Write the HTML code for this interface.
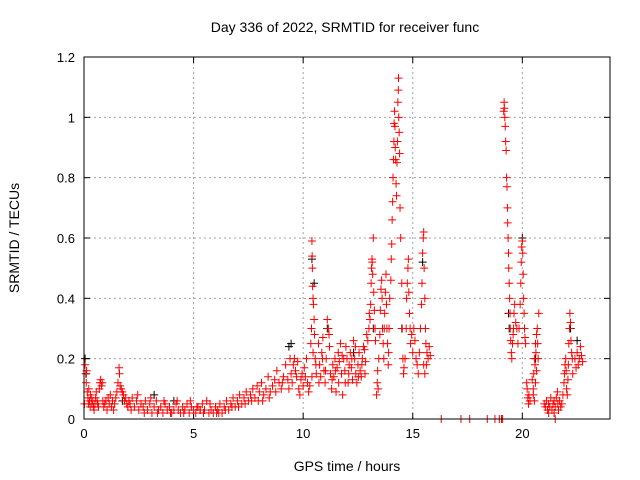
<!DOCTYPE html>
<html><head><meta charset="utf-8"><style>
body{margin:0;background:#fff;}
svg{display:block;font-family:"Liberation Sans",sans-serif;}
</style></head><body>
<svg id="chart" width="640" height="480" viewBox="0 0 640 480">
<rect width="640" height="480" fill="#fff"/>
<text x="345" y="32" text-anchor="middle" font-size="14">Day 336 of 2022, SRMTID for receiver func</text>
<text x="347" y="471" text-anchor="middle" font-size="14">GPS time / hours</text>
<text transform="translate(19,238) rotate(-90)" text-anchor="middle" font-size="14">SRMTID / TECUs</text>
<g id="grid"></g>
<g id="ticks"></g>
<g id="black"></g>
<g id="red"></g>
<rect x="84" y="57" width="526" height="362" fill="none" stroke="#000" stroke-width="1"/>
</svg>
<script>
const xTicks = [0,5,10,15,20];
const yTicks = [0,0.2,0.4,0.6,0.8,1,1.2];
const yTickLabels = ["0","0.2","0.4","0.6","0.8","1","1.2"];
const blackPoints = [[0.05,0.2],[0.1,0.15],[1.75,0.06],[3.2,0.08],[4.1,0.06],[9.35,0.24],[9.45,0.25],[10.4,0.53],[10.5,0.45],[13.2,0.3],[14.5,0.3],[15.45,0.52],[19.37,0.35],[19.4,0.3],[20.0,0.6],[20.6,0.2],[22.2,0.3],[22.5,0.26],[11.1,0.3],[12.3,0.22],[5.3,0.03]];
const redPoints = [
[0.02,0.05],[0.05,0.18],[0.08,0.15],[0.1,0.12],[0.12,0.16],[0.15,0.09],[0.18,0.07],[0.2,0.05],[0.22,0.1],[0.25,0.06],[0.28,0.04],[0.3,0.08],[0.33,0.07],[0.36,0.05],[0.4,0.06],[0.43,0.04],[0.46,0.03],[0.5,0.05],[0.53,0.07],[0.56,0.09],[0.6,0.06],[0.63,0.05],[0.66,0.04],[0.7,0.1],[0.73,0.12],[0.76,0.13],[0.8,0.11],[0.83,0.12],[0.86,0.06],[0.9,0.04],[0.95,0.05],[1.0,0.06],[1.05,0.03],[1.1,0.07],[1.15,0.05],[1.2,0.08],[1.25,0.04],[1.3,0.06],[1.35,0.03],[1.4,0.05],[1.45,0.07],
[1.5,0.09],[1.55,0.12],[1.6,0.17],[1.62,0.15],[1.65,0.11],[1.7,0.1],[1.75,0.09],[1.8,0.08],[1.85,0.06],[1.9,0.07],[1.95,0.05],[2.0,0.04],[2.05,0.06],
[2.1,0.05],[2.2,0.07],[2.3,0.04],[2.4,0.06],[2.5,0.03],[2.6,0.05],[2.7,0.04],[2.8,0.06],[2.9,0.03],[3.0,0.05],[3.1,0.02],[3.2,0.04],[3.3,0.06],[3.4,0.03],[3.5,0.04],[3.6,0.02],[3.7,0.05],[3.8,0.03],[3.9,0.04],[4.0,0.02],[4.1,0.03],[4.2,0.05],[4.3,0.03],[4.4,0.02],[4.5,0.04],[4.6,0.03],[4.7,0.05],[4.8,0.02],[4.9,0.04],[5.0,0.03],[5.1,0.02],[5.2,0.04],[5.3,0.03],[5.4,0.05],[5.5,0.03],[5.6,0.06],[5.7,0.02],[5.8,0.03],[5.9,0.02],[6.0,0.04],
[2.15,0.03],[2.45,0.08],[2.75,0.02],[3.05,0.07],[3.35,0.02],[3.65,0.06],[3.95,0.02],[4.25,0.06],[4.55,0.02],[4.85,0.06],[5.15,0.04],[5.45,0.02],[5.75,0.05],[6.05,0.02],
[6.1,0.03],[6.2,0.05],[6.3,0.02],[6.4,0.04],[6.5,0.06],[6.6,0.03],[6.7,0.05],[6.8,0.07],[6.9,0.04],[7.0,0.06],[7.1,0.08],[7.2,0.05],[7.3,0.07],[7.4,0.09],[7.5,0.06],[7.6,0.08],[7.7,0.1],[7.8,0.07],[7.9,0.11],[8.0,0.09],[6.15,0.02],[6.45,0.03],[6.75,0.04],[7.05,0.04],[7.35,0.05],[7.65,0.06],[7.95,0.06],
[8.1,0.12],[8.2,0.08],[8.3,0.1],[8.4,0.14],[8.5,0.09],[8.6,0.11],[8.7,0.13],[8.8,0.16],[8.9,0.12],[9.0,0.1],[9.1,0.14],[9.2,0.18],[9.3,0.13],[9.4,0.2],[9.45,0.15],[8.15,0.06],[8.45,0.07],[8.75,0.09],[9.05,0.12],[9.35,0.1],
[9.5,0.12],[9.55,0.18],[9.6,0.2],[9.65,0.16],[9.7,0.14],[9.75,0.19],[9.8,0.1],[9.85,0.08],[9.9,0.13],[9.95,0.15],[10.0,0.11],[10.05,0.17],[10.1,0.14],[10.15,0.2],[10.2,0.12],[10.25,0.09],[10.3,0.11],
[10.35,0.25],[10.38,0.3],[10.4,0.59],[10.41,0.54],[10.42,0.5],[10.43,0.44],[10.45,0.4],[10.47,0.38],[10.5,0.33],[10.52,0.28],[10.55,0.2],[10.4,0.14],[10.45,0.22],[10.58,0.18],[10.6,0.15],
[10.7,0.25],[10.75,0.18],[10.8,0.14],[10.85,0.22],[10.9,0.27],[10.95,0.16],[11.0,0.12],[11.05,0.2],[11.1,0.33],[11.15,0.3],[11.2,0.24],[11.25,0.15],[11.3,0.1],[11.35,0.18],[11.4,0.14],[11.45,0.2],[11.5,0.09],[11.55,0.17],[11.6,0.22],[11.65,0.19],[11.7,0.25],[11.75,0.15],[11.8,0.08],[11.85,0.2],[11.9,0.16],[11.95,0.24],[12.0,0.2],[12.05,0.12],[12.1,0.18],[12.15,0.22],[12.2,0.17],[12.25,0.13],[12.3,0.26],[12.35,0.2],[12.4,0.15],[12.45,0.12],[12.5,0.18],[12.55,0.22],[12.6,0.16],[12.65,0.14],[12.7,0.2],[12.75,0.24],[12.8,0.23],[12.85,0.19],[12.9,0.28],
[10.72,0.12],[10.88,0.2],[11.02,0.16],[11.18,0.28],[11.32,0.13],[11.48,0.16],[11.62,0.12],[11.78,0.21],[11.92,0.12],[12.08,0.15],[12.22,0.2],[12.38,0.24],[12.52,0.14],[12.68,0.18],[12.82,0.15],
[12.95,0.26],[13.0,0.3],[13.02,0.35],[13.05,0.33],[13.08,0.38],[13.1,0.45],[13.12,0.5],[13.14,0.53],[13.15,0.52],[13.17,0.48],[13.2,0.6],[13.22,0.42],[13.25,0.36],[13.28,0.3],[13.3,0.26],
[13.35,0.08],[13.38,0.12],[13.4,0.16],[13.42,0.1],[13.45,0.2],[13.5,0.28],[13.52,0.36],[13.55,0.43],[13.58,0.46],[13.6,0.4],[13.62,0.3],[13.65,0.25],[13.68,0.2],[13.7,0.3],[13.72,0.35],[13.75,0.42],[13.78,0.48],[13.8,0.38],[13.82,0.3],[13.85,0.25],[13.88,0.18],[13.9,0.22],[13.92,0.3],[13.95,0.4],
[14.0,0.46],[14.02,0.53],[14.04,0.58],[14.06,0.66],[14.08,0.72],[14.1,0.8],[14.12,0.86],[14.14,0.92],[14.15,0.98],[14.17,1.02],[14.19,0.97],[14.2,0.9],[14.22,0.86],[14.24,0.78],[14.26,0.74],[14.28,0.85],[14.3,0.92],[14.32,1.05],[14.34,1.09],[14.35,1.13],[14.36,1.0],[14.38,0.95],[14.4,0.88],[14.42,0.7],[14.45,0.6],
[14.5,0.45],[14.52,0.3],[14.55,0.2],[14.58,0.15],[14.6,0.17],
[14.65,0.2],[14.7,0.3],[14.72,0.4],[14.75,0.45],[14.78,0.5],[14.8,0.53],[14.82,0.42],[14.85,0.35],[14.88,0.3],[14.9,0.25],[14.95,0.28],[15.0,0.22],[15.05,0.3],[15.1,0.26],[15.15,0.2],[15.2,0.18],[15.25,0.15],[15.3,0.22],[15.35,0.3],[15.4,0.38],[15.42,0.45],[15.45,0.55],[15.48,0.6],[15.5,0.62],[15.52,0.5],[15.55,0.4],[15.58,0.3],[15.6,0.25],[15.62,0.18],[15.65,0.22],[15.7,0.2],[15.75,0.24],[15.8,0.21],[15.5,0.18],[15.55,0.15],
[16.3,0],[17.2,0],[17.6,0],[18.4,0],[18.75,0],[18.95,0],[19.05,0],[19.1,0],
[19.15,1.02],[19.17,1.05],[19.18,1.03],[19.2,1.0],[19.22,0.97],[19.24,0.92],[19.26,0.89],[19.28,0.8],[19.3,0.77],[19.32,0.7],[19.33,0.65],[19.35,0.6],[19.37,0.55],[19.38,0.5],[19.4,0.45],[19.42,0.4],[19.44,0.35],[19.45,0.3],[19.47,0.26],[19.5,0.22],[19.52,0.2],[19.55,0.25],[19.58,0.28],[19.6,0.3],[19.62,0.35],[19.65,0.38],[19.7,0.32],[19.75,0.3],
[19.8,0.25],[19.85,0.3],[19.9,0.38],[19.93,0.45],[19.95,0.52],[19.97,0.57],[20.0,0.59],[20.02,0.55],[20.04,0.48],[20.06,0.4],[20.08,0.35],[20.1,0.3],[20.12,0.27],[20.15,0.25],
[20.2,0.12],[20.22,0.1],[20.25,0.07],[20.28,0.05],[20.3,0.08],[20.35,0.06],
[20.45,0.13],[20.5,0.1],[20.52,0.15],[20.55,0.2],[20.58,0.18],[20.6,0.25],[20.62,0.22],[20.65,0.28],[20.68,0.3],[20.7,0.25],[20.72,0.2],[20.75,0.35],[20.5,0.08],[20.55,0.06],[20.6,0.12],[20.65,0.16],
[21.0,0.05],[21.05,0.04],[21.1,0.06],[21.15,0.03],[21.2,0.05],[21.25,0.04],[21.3,0.07],[21.35,0.03],[21.4,0.05],[21.45,0.06],[21.5,0.04],[21.55,0.07],[21.6,0.09],[21.62,0.05],[21.65,0.03],[21.7,0.06],[21.75,0.04],[21.8,0.05],[21.85,0.08],[21.2,0.02],[21.45,0.02],[21.5,0.0],
[21.9,0.12],[21.92,0.15],[21.95,0.18],[21.98,0.2],[22.0,0.16],[22.02,0.1],[22.05,0.08],[22.08,0.13],[22.1,0.18],[22.12,0.25],[22.15,0.3],[22.17,0.35],[22.2,0.32],[22.22,0.26],[22.25,0.22],[22.28,0.2],[22.3,0.15],
[22.4,0.2],[22.45,0.17],[22.5,0.22],[22.55,0.18],[22.6,0.2],[22.65,0.24],[22.7,0.21],[22.75,0.19]
];
const NS="http://www.w3.org/2000/svg";
const X0=84,X1=610,Y0=419,Y1=57,XMAX=24,YMAX=1.2;
function sx(t){return X0+(t/XMAX)*(X1-X0);}
function sy(v){return Y0-(v/YMAX)*(Y0-Y1);}
function mk(tag,attrs,parent){const e=document.createElementNS(NS,tag);for(const k in attrs)e.setAttribute(k,attrs[k]);parent.appendChild(e);return e;}
const grid=document.getElementById('grid'),ticks=document.getElementById('ticks');
xTicks.forEach(t=>{
  const x=sx(t);
  if(t>0){const g=mk('line',{x1:x,x2:x,y1:Y1,y2:Y0,stroke:'#a0a0a0','stroke-dasharray':'2,3'},grid);
  
  }
  mk('line',{x1:x,x2:x,y1:Y0,y2:Y0-6,stroke:'#000'},ticks);
  mk('line',{x1:x,x2:x,y1:Y1,y2:Y1+6,stroke:'#000'},ticks);
  const l=mk('text',{x:x,y:Y0+19,'text-anchor':'middle','font-size':'13'},ticks);
  l.textContent=String(t);
  
  
});
yTicks.forEach((v,i)=>{
  const y=sy(v);
  if(v>0&&v<YMAX){const g=mk('line',{x1:X0,x2:X1,y1:y,y2:y,stroke:'#a0a0a0','stroke-dasharray':'2,3'},grid);
  
  }
  mk('line',{x1:X0,x2:X0+6,y1:y,y2:y,stroke:'#000'},ticks);
  mk('line',{x1:X1,x2:X1-6,y1:y,y2:y,stroke:'#000'},ticks);
  const l=mk('text',{x:X0-9,y:y+5,'text-anchor':'end','font-size':'13'},ticks);
  l.textContent=yTickLabels[i];
  
  
});
function drawPts(pts,gid,color,name){
  const g=document.getElementById(gid);
  pts.forEach(p=>{
    const x=sx(p[0]),y=sy(p[1]);
    const e=mk('path',{d:`M${x-4},${y}H${x+4}M${x},${y-4}V${y+4}`,stroke:color,'stroke-width':'1',fill:'none'},g);
    
    
  });
}
drawPts(blackPoints,'black','#000','black-point');
drawPts(redPoints,'red','#ff0000','red-point');
</script>
</body></html>
